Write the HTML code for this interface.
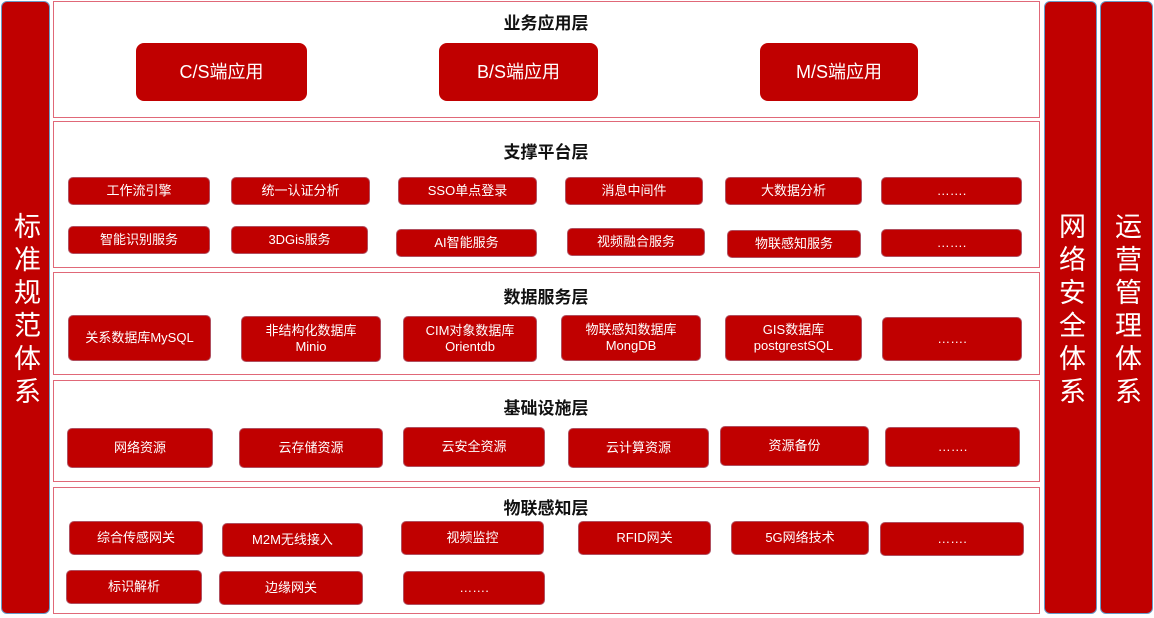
<!DOCTYPE html><html><head><meta charset="utf-8"><style>
body{margin:0;width:1154px;height:618px;background:#fff;position:relative;overflow:hidden;font-family:"Liberation Sans","Noto Sans CJK SC",sans-serif}
.a{position:absolute}
.side{background:#c00000;border:1px solid #6a9cc8;border-radius:6px;color:#fff;font-size:27px;display:flex;align-items:center;justify-content:center;writing-mode:vertical-rl;letter-spacing:6px;box-sizing:border-box;padding-top:6px}
.layer{border:1px solid #e06878;box-sizing:border-box}
.t{font-weight:bold;font-size:17px;color:#111;text-align:center;width:986px;left:53px}
.b{background:#c00000;color:#fff;border-radius:5px;display:flex;align-items:center;justify-content:center;text-align:center;font-size:13px;line-height:16px;box-sizing:border-box;border:1px solid #b05060}
.big{font-size:18px;border-radius:8px;border:none}
</style></head><body>
<div class="a side" style="left:1px;top:1px;width:49px;height:613px">标准规范体系</div>
<div class="a side" style="left:1044px;top:1px;width:53px;height:613px">网络安全体系</div>
<div class="a side" style="left:1100px;top:1px;width:53px;height:613px">运营管理体系</div>

<div class="a layer" style="left:53px;top:1px;width:987px;height:117px"></div>
<div class="a t" style="top:9px">业务应用层</div>
<div class="a b big" style="left:136px;top:43px;width:171px;height:58px">C/S端应用</div>
<div class="a b big" style="left:439px;top:43px;width:159px;height:58px">B/S端应用</div>
<div class="a b big" style="left:760px;top:43px;width:158px;height:58px">M/S端应用</div>

<div class="a layer" style="left:53px;top:121px;width:987px;height:147px"></div>
<div class="a t" style="top:138px">支撑平台层</div>
<div class="a b" style="left:68px;top:177px;width:142px;height:28px">工作流引擎</div>
<div class="a b" style="left:231px;top:177px;width:139px;height:28px">统一认证分析</div>
<div class="a b" style="left:398px;top:177px;width:139px;height:28px">SSO单点登录</div>
<div class="a b" style="left:565px;top:177px;width:138px;height:28px">消息中间件</div>
<div class="a b" style="left:725px;top:177px;width:137px;height:28px">大数据分析</div>
<div class="a b" style="left:881px;top:177px;width:141px;height:28px">…….</div>
<div class="a b" style="left:68px;top:226px;width:142px;height:28px">智能识别服务</div>
<div class="a b" style="left:231px;top:226px;width:137px;height:28px">3DGis服务</div>
<div class="a b" style="left:396px;top:229px;width:141px;height:28px">AI智能服务</div>
<div class="a b" style="left:567px;top:228px;width:138px;height:28px">视频融合服务</div>
<div class="a b" style="left:727px;top:230px;width:134px;height:28px">物联感知服务</div>
<div class="a b" style="left:881px;top:229px;width:141px;height:28px">…….</div>

<div class="a layer" style="left:53px;top:272px;width:987px;height:103px"></div>
<div class="a t" style="top:283px">数据服务层</div>
<div class="a b" style="left:68px;top:315px;width:143px;height:46px">关系数据库MySQL</div>
<div class="a b" style="left:241px;top:316px;width:140px;height:46px">非结构化数据库<br>Minio</div>
<div class="a b" style="left:403px;top:316px;width:134px;height:46px">CIM对象数据库<br>Orientdb</div>
<div class="a b" style="left:561px;top:315px;width:140px;height:46px">物联感知数据库<br>MongDB</div>
<div class="a b" style="left:725px;top:315px;width:137px;height:46px">GIS数据库<br>postgrestSQL</div>
<div class="a b" style="left:882px;top:317px;width:140px;height:44px">…….</div>

<div class="a layer" style="left:53px;top:380px;width:987px;height:102px"></div>
<div class="a t" style="top:394px">基础设施层</div>
<div class="a b" style="left:67px;top:428px;width:146px;height:40px">网络资源</div>
<div class="a b" style="left:239px;top:428px;width:144px;height:40px">云存储资源</div>
<div class="a b" style="left:403px;top:427px;width:142px;height:40px">云安全资源</div>
<div class="a b" style="left:568px;top:428px;width:141px;height:40px">云计算资源</div>
<div class="a b" style="left:720px;top:426px;width:149px;height:40px">资源备份</div>
<div class="a b" style="left:885px;top:427px;width:135px;height:40px">…….</div>

<div class="a layer" style="left:53px;top:487px;width:987px;height:127px"></div>
<div class="a t" style="top:494px">物联感知层</div>
<div class="a b" style="left:69px;top:521px;width:134px;height:34px">综合传感网关</div>
<div class="a b" style="left:222px;top:523px;width:141px;height:34px">M2M无线接入</div>
<div class="a b" style="left:401px;top:521px;width:143px;height:34px">视频监控</div>
<div class="a b" style="left:578px;top:521px;width:133px;height:34px">RFID网关</div>
<div class="a b" style="left:731px;top:521px;width:138px;height:34px">5G网络技术</div>
<div class="a b" style="left:880px;top:522px;width:144px;height:34px">…….</div>
<div class="a b" style="left:66px;top:570px;width:136px;height:34px">标识解析</div>
<div class="a b" style="left:219px;top:571px;width:144px;height:34px">边缘网关</div>
<div class="a b" style="left:403px;top:571px;width:142px;height:34px">…….</div>
</body></html>
